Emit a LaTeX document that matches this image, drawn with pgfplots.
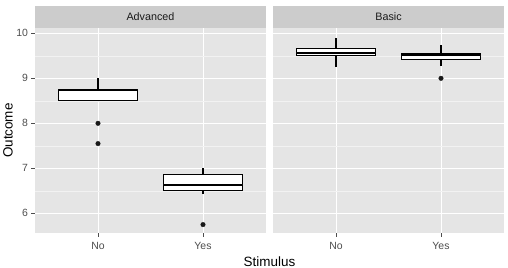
\documentclass[border=0pt]{standalone}
\usepackage{pgfplots}
\pgfplotsset{compat=1.18}
\usepgfplotslibrary{statistics}
\usepackage{fontspec}
\setmainfont{Liberation Sans}
\definecolor{panelbg}{HTML}{E5E5E5}
\definecolor{stripbg}{HTML}{CCCCCC}
\definecolor{minorgrid}{HTML}{F2F2F2}
\definecolor{ticktext}{HTML}{4D4D4D}
\definecolor{striptext}{HTML}{1A1A1A}
\pgfplotsset{
 facet/.style={
  scale only axis, width=231bp, height=205.3bp,
  xmin=0.4, xmax=2.6, ymin=5.556, ymax=10.118,
  axis background/.style={fill=panelbg},
  axis line style={draw=none},
  tick pos=left,
  xtick={1,2}, xticklabels={No,Yes},
  ytick={6,7,8,9,10},
  minor ytick={6.5,7.5,8.5,9.5},
  grid=both,
  major grid style={white, line width=1bp},
  minor grid style={minorgrid, line width=0.5bp},
  tick align=outside,
  major tick length=3.5bp, minor tick length=0pt,
  tick style={ticktext, line width=0.7bp},
  ticklabel style={font=\fontsize{10.5}{12}\selectfont, text=ticktext},
  xticklabel style={yshift=-2bp},
  /pgf/number format/assume math mode=true,
  clip=false,
  boxplot/draw direction=y,
  boxplot/box extend=0.75,
  boxplot/draw/lower whisker/.code={%
    \draw[/pgfplots/boxplot/every whisker/.try]
      (boxplot box cs:\pgfplotsboxplotvalue{lower quartile},0.5) --
      (boxplot box cs:\pgfplotsboxplotvalue{lower whisker},0.5);},
  boxplot/draw/upper whisker/.code={%
    \draw[/pgfplots/boxplot/every whisker/.try]
      (boxplot box cs:\pgfplotsboxplotvalue{upper quartile},0.5) --
      (boxplot box cs:\pgfplotsboxplotvalue{upper whisker},0.5);},
  every axis y label/.style={at={(rel axis cs:0,0.5)}, anchor=center, xshift=-27bp, rotate=90, font=\fontsize{13.5}{15}\selectfont},
 },
 bx/.style={solid, draw=black, line width=1.1bp, fill=white, mark=*, mark size=2.3bp,
    mark options={fill=black!90, draw=black!90, line width=0.3bp}},
}
\begin{document}
\begin{tikzpicture}
\useasboundingbox (0,0) rectangle (508bp,268bp);
\begin{axis}[facet, at={(35bp,34.7bp)}, anchor=south west, ylabel={Outcome}]
\fill[stripbg] (rel axis cs:0,1) rectangle ([yshift=22bp]rel axis cs:1,1);
\node[text=striptext, font=\fontsize{10.8}{12}\selectfont] at ([yshift=11bp]rel axis cs:0.5,1) {Advanced};
\addplot+[bx, boxplot prepared={draw position=1, lower whisker=8.5, lower quartile=8.5, median=8.75, upper quartile=8.75, upper whisker=9.0, every median/.style={line width=2.1bp}}]
 coordinates {(0,8.0) (0,7.55)};
\addplot+[bx, boxplot prepared={draw position=2, lower whisker=6.42, lower quartile=6.5, median=6.63, upper quartile=6.87, upper whisker=7.0, every median/.style={line width=2.1bp}}]
 coordinates {(0,5.75)};
\end{axis}
\begin{axis}[facet, at={(273bp,34.7bp)}, anchor=south west, yticklabels={}, ytick style={draw=none}]
\fill[stripbg] (rel axis cs:0,1) rectangle ([yshift=22bp]rel axis cs:1,1);
\node[text=striptext, font=\fontsize{10.8}{12}\selectfont] at ([yshift=11bp]rel axis cs:0.5,1) {Basic};
\addplot+[bx, boxplot prepared={draw position=1, lower whisker=9.26, lower quartile=9.51, median=9.57, upper quartile=9.67, upper whisker=9.89, every median/.style={line width=2.1bp}}]
 coordinates {};
\addplot+[bx, boxplot prepared={draw position=2, lower whisker=9.27, lower quartile=9.41, median=9.51, upper quartile=9.55, upper whisker=9.75, every median/.style={line width=2.1bp}}]
 coordinates {(0,9.0)};
\end{axis}
\node[font=\fontsize{13.5}{15}\selectfont, inner sep=0pt] at (269.5bp,6.5bp) {Stimulus};
\end{tikzpicture}
\end{document}
